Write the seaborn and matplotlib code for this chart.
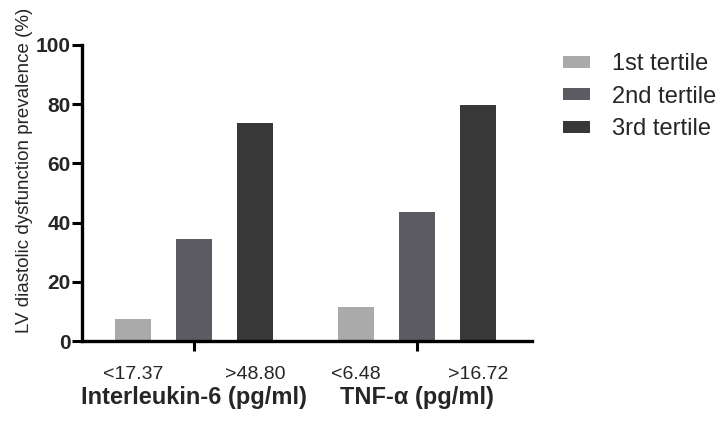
import pandas as pd
import matplotlib
matplotlib.use("Agg")
import matplotlib.pyplot as plt
import seaborn as sns

# значення
markers = ["Interleukin-6 (pg/ml)", "TNF-\u03b1 (pg/ml)"]
tertiles = ["1st tertile", "2nd tertile", "3rd tertile"]
il6_values = [7.4, 34.6, 73.8]
tnf_values = [11.5, 43.5, 79.8]
low_labels = ["<17.37", "<6.48"]
high_labels = [">48.80", ">16.72"]
colors = ["#aaaaaa", "#5c5b61", "#383838"]

data = pd.DataFrame({
    "marker": [markers[0]] * 3 + [markers[1]] * 3,
    "tertile": tertiles * 2,
    "prevalence": il6_values + tnf_values,
})

sns.set_style("ticks")
plt.rcParams["font.family"] = ["Liberation Sans", "DejaVu Sans"]

fig = plt.figure(figsize=(7.24, 4.28), dpi=100)
ax = fig.add_axes([0.113, 0.203, 0.622, 0.692])

sns.barplot(data=data, x="marker", y="prevalence", hue="tertile",
            palette=colors, width=0.82, gap=0.41, ax=ax,
            edgecolor="none", saturation=1)

ax.set_ylim(0, 100)
ax.set_xlim(-0.502, 1.516)
ax.set_yticks(range(0, 101, 20))
for lab in ax.get_yticklabels():
    lab.set_fontweight("bold")
    lab.set_fontsize(15)

# великі позначки посередині груп без підписів
ax.set_xticks([0, 1])
ax.set_xticklabels(["", ""])

# підписи під першим і третім стовпчиком кожної групи
first = [p.get_x() + p.get_width() / 2 for p in ax.containers[0].patches]
third = [p.get_x() + p.get_width() / 2 for p in ax.containers[2].patches]
ax.set_xticks(first + third, minor=True)
ax.set_xticklabels(low_labels + high_labels, minor=True, fontsize=14)
ax.tick_params(axis="x", which="minor", length=0, pad=18)

ax.tick_params(axis="both", which="major", length=7, width=2.2, color="black")
ax.tick_params(axis="y", pad=1)

for i, m in enumerate(markers):
    ax.text(i, -0.192, m, transform=ax.get_xaxis_transform(), ha="center",
            va="center", fontsize=17, fontweight="bold")

ax.set_xlabel("")
ax.set_ylabel("LV diastolic dysfunction prevalence (%)", fontsize=13.5)
ax.yaxis.set_label_coords(-0.108, 0.578)

for side in ["left", "bottom"]:
    ax.spines[side].set_linewidth(2.4)
    ax.spines[side].set_color("black")
sns.despine(ax=ax)

handles, labels = ax.get_legend_handles_labels()
ax.legend(handles, labels, loc="upper left", bbox_to_anchor=(0.778, 0.876),
          bbox_transform=fig.transFigure, frameon=False, fontsize=17,
          handlelength=1.15, handleheight=0.42, labelspacing=0.45,
          handletextpad=0.93, borderpad=0, borderaxespad=0)

fig.savefig("out.png", dpi=100)
